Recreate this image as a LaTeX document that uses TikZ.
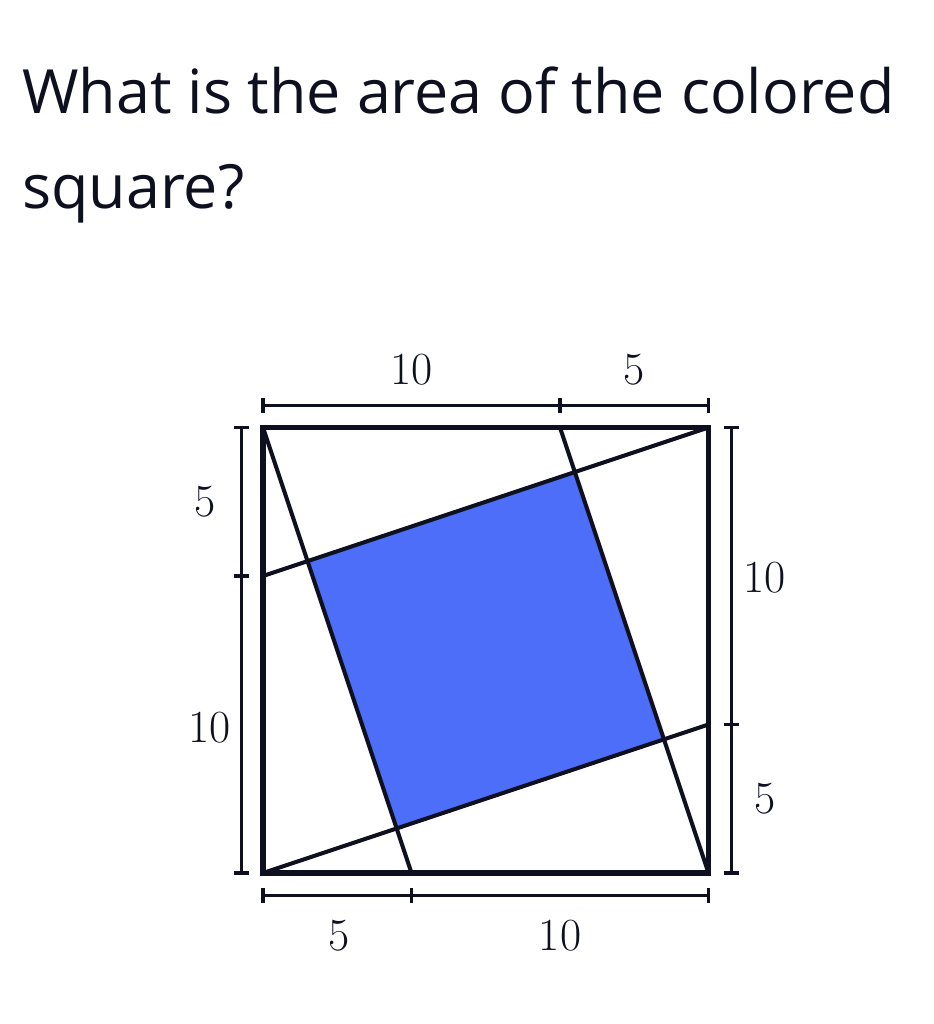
\documentclass[tikz,border=0pt]{standalone}
\usepackage{fontspec}
\newfontfamily\qfont{Open Sans}
\definecolor{fillb}{HTML}{4C6EF8}
\definecolor{ink}{HTML}{0E1020}
\usetikzlibrary{calc}
\tikzset{
  side/.style={draw=ink,line width=2.6pt,line join=miter},
  cut/.style={draw=ink,line width=2pt},
  dimln/.style={draw=ink,line width=1.6pt},
  num/.style={font=\fontsize{23}{28}\selectfont,text=ink,inner sep=0pt},
  ttl/.style={font=\qfont\fontsize{30.5}{38}\selectfont,text=ink,anchor=base west,inner sep=0pt},
}
\begin{document}
\begin{tikzpicture}[x=0.5pt,y=-0.5pt]
\useasboundingbox (0,0) rectangle (933,1024);
\node[ttl] (q1) at (22,113) {What is the area of the colored};
\node[ttl] (q2) at (22,208) {square?};
\begin{scope}[shift={(263,873)},x=14.85pt,y=14.85pt]
% corners and the points on the sides
\coordinate (sw) at (0,0); \coordinate (se) at (15,0);
\coordinate (ne) at (15,15); \coordinate (nw) at (0,15);
\coordinate (b5) at (5,0); \coordinate (t10) at (10,15);
\coordinate (l10) at (0,10); \coordinate (r5) at (15,5);
% colored square
\fill[fillb] (4.5,1.5) -- (13.5,4.5) -- (10.5,13.5) -- (1.5,10.5) -- cycle;
\draw[cut] (nw) -- (b5);
\draw[cut] (t10) -- (se);
\draw[cut] (sw) -- (r5);
\draw[cut] (l10) -- (ne);
\draw[side] (sw) rectangle (ne);
% dimension bars
\draw[dimln] (0,15.75) -- (15,15.75);
\foreach \t in {0,10,15} \draw[dimln] (\t,15.5) -- (\t,16);
\draw[dimln] (0,-0.77) -- (15,-0.77);
\foreach \t in {0,5,15} \draw[dimln] (\t,-0.52) -- (\t,-1.02);
\draw[dimln] (-0.72,0) -- (-0.72,15);
\foreach \t in {0,10,15} \draw[dimln] (-0.97,\t) -- (-0.47,\t);
\draw[dimln] (15.78,0) -- (15.78,15);
\foreach \t in {0,5,15} \draw[dimln] (15.53,\t) -- (16.03,\t);
% labels
\node[num] (top1) at (5,16.95) {10};
\node[num] (top2) at (12.5,16.95) {5};
\node[num] (bot1) at (2.55,-2.1) {5};
\node[num] (bot2) at (10,-2.1) {10};
\node[num] (lft1) at (-1.95,12.5) {5};
\node[num] (lft2) at (-1.8,4.9) {10};
\node[num] (rgt1) at (16.9,9.95) {10};
\node[num] (rgt2) at (16.9,2.5) {5};
\end{scope}
\end{tikzpicture}
\end{document}
